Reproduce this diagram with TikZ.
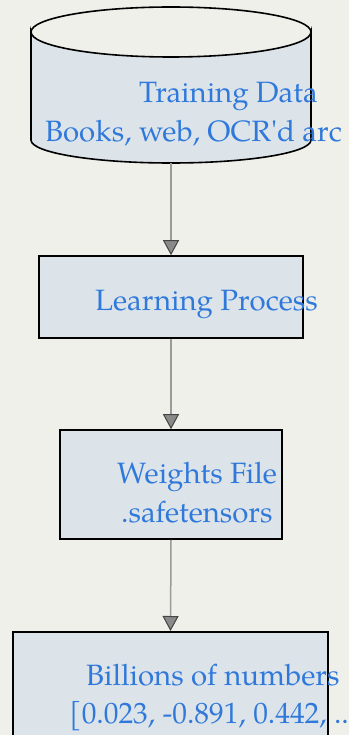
\documentclass[tikz,border=0pt]{standalone}
\usepackage{fontspec}
\setmainfont{TeX Gyre Pagella}
\usetikzlibrary{arrows.meta}
\definecolor{bgc}{HTML}{EFF0EA}
\definecolor{boxc}{HTML}{DCE4EA}
\definecolor{txtc}{HTML}{3079DB}
\definecolor{linec}{HTML}{9A9A9A}
\definecolor{tipfill}{HTML}{8A8A8A}
\definecolor{tipdraw}{HTML}{444444}
\tikzset{
  boxnode/.style={draw=black, line width=1.6pt, fill=boxc, inner sep=0pt},
  txt/.style={text=txtc, font=\fontsize{29.4}{39}\selectfont, anchor=base west, inner sep=0pt},
  conn/.style={draw=linec, line width=1.5pt,
    -{Triangle[width=16pt,length=15pt,fill=tipfill,color=tipdraw,line width=1pt]}, shorten >=0pt}
}
\begin{document}
\begin{tikzpicture}[x=1pt,y=-1pt]
\useasboundingbox (0,0) rectangle (349,735);
\clip (0,0) rectangle (349,735);
\fill[bgc] (0,0) rectangle (349,735);
% cylinder
\draw[fill=boxc, line width=1.6pt] (31,32) -- (31,140) arc[start angle=180, end angle=0, x radius=140, y radius=23] -- (311,32) arc[start angle=0, end angle=180, x radius=140, y radius=25] -- cycle;
\draw[line width=1.6pt] (31,32) arc[start angle=180, end angle=360, x radius=140, y radius=25];
\coordinate (cyl) at (171,163);
% boxes
\node[boxnode, minimum width=264pt, minimum height=82pt] (lp) at (171,297) {};
\node[boxnode, minimum width=222pt, minimum height=109pt] (wf) at (171,484.5) {};
\node[boxnode, minimum width=315pt, minimum height=150pt, anchor=north] (bn) at (170.5,631) {};
% connectors
\draw[conn] (cyl) -- (lp.north);
\draw[conn] (lp.south) -- (wf.north);
\draw[conn] (wf.south) -- (bn.north);
% texts
\node[txt] (t1) at (139,103) {Training Data};
\node[txt] (t2) at (45,142) {Books, web, OCR\textquotesingle d arc};
\node[txt] (t3) at (95,310) {Learning Process};
\node[txt] (t4) at (117,483) {Weights File};
\node[txt] (t5) at (121,522) {.safetensors};
\node[txt] (t6) at (86,685) {Billions of numbers};
\node[txt] (t7) at (69,723) {[0.023, -0.891, 0.442, ..};
\end{tikzpicture}
\end{document}
